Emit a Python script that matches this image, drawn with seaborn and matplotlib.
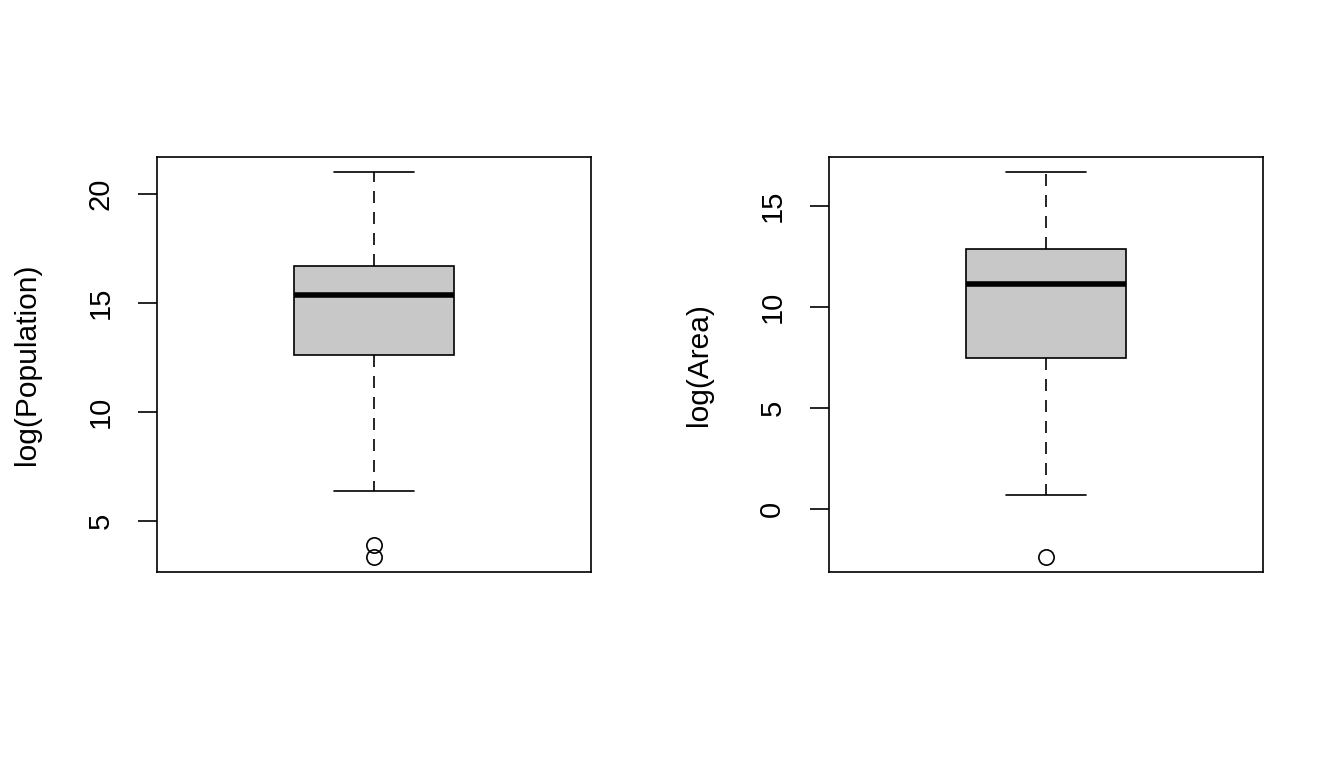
import matplotlib
matplotlib.use("Agg")
import matplotlib.pyplot as plt
import seaborn as sns

# Five-number summaries
variables = ["log(Population)", "log(Area)"]
whisker_low = [6.35, 0.71]
q1 = [12.62, 7.49]
medians = [15.37, 11.16]
q3 = [16.69, 12.90]
whisker_high = [20.99, 16.68]
outliers = [[3.90, 3.36], [-2.34]]
yticks = [[5, 10, 15, 20], [0, 5, 10, 15]]

sns.set_theme(style="white")
plt.rcParams["font.family"] = ["Liberation Sans", "DejaVu Sans"]
plt.rcParams["text.color"] = "black"
plt.rcParams["axes.labelcolor"] = "black"
plt.rcParams["ytick.color"] = "black"

fig = plt.figure(figsize=(13.44, 7.68), dpi=100)
lefts = [157 / 1344, 829 / 1344]
lw = 1.2

for i, name in enumerate(variables):
    ax = fig.add_axes([lefts[i], 1 - 572 / 768, 434 / 1344, 415 / 768])
    stats = [dict(whislo=whisker_low[i], q1=q1[i], med=medians[i], q3=q3[i],
                  whishi=whisker_high[i], fliers=outliers[i], label="")]
    ax.bxp(stats, positions=[1], widths=0.4, capwidths=0.2, patch_artist=True,
           showfliers=True,
           boxprops=dict(facecolor="#C8C8C8", edgecolor="black", linewidth=lw),
           medianprops=dict(color="black", linewidth=4.0, solid_capstyle="butt"),
           whiskerprops=dict(color="black", linewidth=lw, linestyle=(0, (7.2, 5.4))),
           capprops=dict(color="black", linewidth=lw),
           flierprops=dict(marker="o", markerfacecolor="none", markeredgecolor="black",
                           markersize=11, markeredgewidth=lw, linestyle="none"))
    lo = min([whisker_low[i]] + outliers[i])
    hi = max([whisker_high[i]] + outliers[i])
    pad = 0.04 * (hi - lo)
    ax.set_ylim(lo - pad, hi + pad)
    ax.set_xlim(0.46, 1.54)
    ax.set_xticks([])
    ax.set_yticks(yticks[i])
    ax.set_yticklabels([str(t) for t in yticks[i]])
    ax.tick_params(axis="y", which="major", direction="out", left=True, length=13.7,
                   width=lw, pad=17, labelsize=21, labelrotation=90, color="black")
    for lab in ax.get_yticklabels():
        lab.set_verticalalignment("center")
    ax.set_ylabel(name, fontsize=21.5)
    ax.yaxis.set_label_coords(-0.30, 0.5)
    ax.yaxis.label.set_verticalalignment("center")
    for sp in ax.spines.values():
        sp.set_color("black")
        sp.set_linewidth(lw)
        sp.set_visible(True)

fig.savefig("out.png", dpi=100)
